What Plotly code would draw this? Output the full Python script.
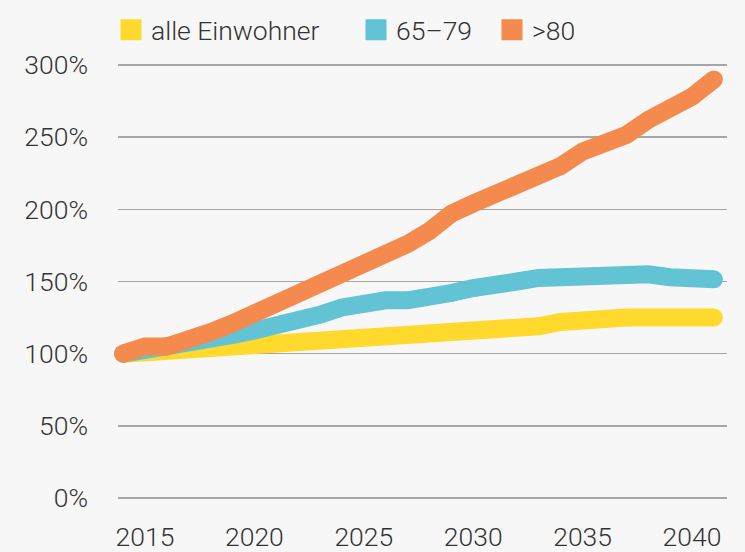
import plotly.graph_objects as go

years = list(range(2014, 2042))

alle_einwohner = [100, 101, 102.5, 104, 104.6, 106, 107.5, 108, 109.5, 110.5,
                  111, 112, 112.5, 113.5, 114, 115, 115.5, 116, 116.5, 119,
                  122, 124, 125, 125, 125, 124, 124, 125]
age_65_79 = [100, 102, 104, 107, 110, 113, 116, 119, 123, 127,
             132, 136, 137, 137, 141, 142, 145.5, 149, 150, 152.5,
             153, 155, 156.5, 156.5, 155, 153, 152, 151.5]
age_80 = [100, 105, 105, 109, 115, 121, 127.5, 134, 141, 147,
          155, 161.5, 168, 176, 185, 197, 204, 210, 218, 224,
          230, 240, 247, 251.5, 262, 269, 278, 290]

series_names = ["alle Einwohner", "65–79", ">80"]
series_values = [alle_einwohner, age_65_79, age_80]
colors = ["#FFD92C", "#62C3D4", "#F58A4F"]

y_tick_values = [0, 50, 100, 150, 200, 250, 300]
y_tick_labels = ["0%", "50%", "100%", "150%", "200%", "250%", "300%"]
x_tick_values = [2015, 2020, 2025, 2030, 2035, 2040]
x_tick_labels = ["2015", "2020", "2025", "2030", "2035", "2040"]

FONT = dict(family="Roboto, 'Liberation Sans', sans-serif", size=26.5, color="#333333", weight=300)
LW = 18

fig = go.Figure()
for name, vals, col in zip(series_names, series_values, colors):
    n = len(vals)
    sizes = [LW] + [0] * (n - 2) + [LW]
    fig.add_trace(go.Scatter(
        x=years, y=vals, mode="lines+markers", name=name,
        line=dict(color=col, width=LW),
        marker=dict(color=col, size=sizes, opacity=1, line=dict(width=0)),
        cliponaxis=False, showlegend=False, hoverinfo="skip",
    ))

legend_ids = ["legend", "legend2", "legend3"]
legend_x = [111, 356, 492]
for name, col, lid in zip(series_names, colors, legend_ids):
    fig.add_trace(go.Scatter(
        x=[None], y=[None], mode="markers", name=name,
        marker=dict(symbol="square", color=col, size=16, line=dict(color=col, width=5)),
        showlegend=True, legend=lid,
    ))

legend_common = dict(
    orientation="h", xref="container", yref="container",
    y=1 - 6 / 552, xanchor="left", yanchor="top",
    font=FONT, bgcolor="rgba(0,0,0,0)", itemclick=False,
)

fig.update_layout(
    width=745, height=552,
    margin=dict(l=118, r=18, t=60, b=47, autoexpand=False),
    paper_bgcolor="#F7F7F7", plot_bgcolor="#F7F7F7",
    font=FONT,
    showlegend=True,
    legend=dict(x=legend_x[0] / 745, **legend_common),
    legend2=dict(x=legend_x[1] / 745, **legend_common),
    legend3=dict(x=legend_x[2] / 745, **legend_common),
    xaxis=dict(
        range=[2013.766, 2041.6], tickmode="array",
        tickvals=x_tick_values, ticktext=x_tick_labels,
        showgrid=False, zeroline=False, showline=False, ticks="",
        ticklabelstandoff=13, tickfont=FONT, automargin=False,
    ),
    yaxis=dict(
        range=[-4.85, 303.46], tickmode="array",
        tickvals=y_tick_values, ticktext=y_tick_labels,
        showgrid=True, gridcolor="#A6A6A6", gridwidth=1.5,
        zeroline=False, showline=False, ticks="",
        ticklabelstandoff=29, tickfont=FONT, automargin=False,
    ),
)

fig.write_html(
    "out.html",
    config={"displayModeBar": False, "staticPlot": True},
    post_script="document.body.style.margin='0';document.body.style.background='#F7F7F7';document.body.style.overflow='hidden';",
)
